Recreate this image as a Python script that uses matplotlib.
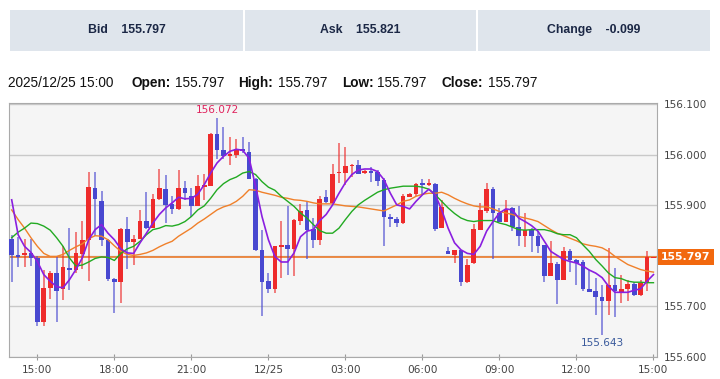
import matplotlib
matplotlib.use("Agg")
import matplotlib.pyplot as plt
from matplotlib.patches import Rectangle
import numpy as np
import pandas as pd

# 15 minute candles, 12/24 14:00 -> 12/25 15:00
times = pd.date_range("2025-12-24 14:00", "2025-12-25 15:00", freq="15min")

opens = [155.834, 155.801, 155.801, 155.805, 155.796, 155.669, 155.736, 155.767, 155.734, 155.777,
         155.772, 155.803, 155.832, 155.934, 155.909, 155.832, 155.755, 155.749, 155.854, 155.827,
         155.834, 155.870, 155.856, 155.913, 155.932, 155.903, 155.893, 155.934, 155.918, 155.899,
         155.937, 155.939, 156.041, 156.009, 155.997, 156.000, 156.012, 156.005, 155.953, 155.811,
         155.751, 155.735, 155.817, 155.822, 155.814, 155.870, 155.891, 155.854, 155.832, 155.916,
         155.905, 155.964, 155.964, 155.977, 155.980, 155.965, 155.967, 155.967, 155.951, 155.877,
         155.873, 155.865, 155.917, 155.922, 155.944, 155.941, 155.943, 155.856, 155.809, 155.801,
         155.811, 155.748, 155.786, 155.852, 155.888, 155.932, 155.884, 155.868, 155.895, 155.857,
         155.840, 155.852, 155.840, 155.822, 155.761, 155.784, 155.753, 155.809, 155.791, 155.788,
         155.734, 155.730, 155.718, 155.711, 155.743, 155.727, 155.734, 155.745, 155.722, 155.747,
         155.797]
highs = [155.842, 155.838, 155.834, 155.834, 155.799, 155.772, 155.771, 155.799, 155.819, 155.855,
         155.847, 155.870, 155.967, 155.967, 155.928, 155.833, 155.756, 155.855, 155.878, 155.842,
         155.891, 155.926, 155.923, 155.972, 155.961, 155.918, 155.970, 155.949, 155.934, 155.961,
         155.962, 156.043, 156.072, 156.056, 156.036, 156.031, 156.036, 156.025, 155.954, 155.852,
         155.766, 155.820, 155.870, 155.899, 155.873, 155.903, 155.909, 155.875, 155.918, 155.931,
         155.982, 156.024, 156.016, 155.982, 155.990, 155.970, 155.976, 155.970, 155.954, 155.882,
         155.878, 155.922, 155.924, 155.944, 155.952, 155.952, 155.944, 155.911, 155.817, 155.811,
         155.812, 155.794, 155.864, 155.905, 155.944, 155.936, 155.895, 155.911, 155.897, 155.899,
         155.884, 155.855, 155.850, 155.822, 155.830, 155.787, 155.818, 155.813, 155.794, 155.791,
         155.772, 155.756, 155.743, 155.816, 155.776, 155.763, 155.753, 155.749, 155.753, 155.810,
         155.797]
lows = [155.748, 155.779, 155.779, 155.781, 155.662, 155.662, 155.714, 155.670, 155.712, 155.732,
        155.766, 155.775, 155.750, 155.839, 155.819, 155.750, 155.688, 155.707, 155.774, 155.782,
        155.833, 155.854, 155.855, 155.911, 155.865, 155.882, 155.891, 155.911, 155.878, 155.898,
        155.911, 155.938, 155.991, 155.991, 155.980, 155.993, 156.004, 155.952, 155.809, 155.681,
        155.727, 155.727, 155.757, 155.763, 155.760, 155.862, 155.793, 155.816, 155.822, 155.904,
        155.904, 155.945, 155.941, 155.957, 155.962, 155.963, 155.947, 155.939, 155.820, 155.857,
        155.857, 155.864, 155.916, 155.918, 155.921, 155.938, 155.849, 155.855, 155.803, 155.786,
        155.740, 155.747, 155.785, 155.851, 155.885, 155.793, 155.867, 155.867, 155.849, 155.820,
        155.817, 155.807, 155.806, 155.748, 155.760, 155.705, 155.752, 155.768, 155.742, 155.730,
        155.729, 155.684, 155.643, 155.684, 155.680, 155.707, 155.711, 155.721, 155.720, 155.730,
        155.797]
closes = [155.801, 155.800, 155.806, 155.796, 155.669, 155.736, 155.766, 155.730, 155.778, 155.772,
          155.805, 155.832, 155.936, 155.912, 155.832, 155.755, 155.749, 155.854, 155.827, 155.834,
          155.870, 155.855, 155.913, 155.934, 155.901, 155.893, 155.934, 155.924, 155.899, 155.938,
          155.941, 156.041, 156.009, 155.998, 156.001, 156.011, 156.008, 155.953, 155.811, 155.748,
          155.735, 155.819, 155.821, 155.814, 155.872, 155.889, 155.852, 155.832, 155.913, 155.906,
          155.963, 155.967, 155.978, 155.980, 155.963, 155.968, 155.966, 155.949, 155.878, 155.873,
          155.865, 155.918, 155.922, 155.943, 155.940, 155.944, 155.853, 155.896, 155.804, 155.811,
          155.748, 155.782, 155.853, 155.890, 155.932, 155.884, 155.868, 155.893, 155.857, 155.840,
          155.852, 155.840, 155.820, 155.761, 155.786, 155.753, 155.809, 155.791, 155.786, 155.734,
          155.729, 155.718, 155.711, 155.743, 155.730, 155.734, 155.745, 155.722, 155.747, 155.797,
          155.797]

# moving averages as drawn on the chart
ma_short = [155.911, 155.842, 155.819, 155.807, 155.789, 155.763, 155.750, 155.739, 155.737, 155.753,
            155.773, 155.796, 155.832, 155.852, 155.862, 155.845, 155.832, 155.814, 155.806, 155.805,
            155.826, 155.845, 155.865, 155.882, 155.895, 155.905, 155.916, 155.913, 155.914, 155.922,
            155.941, 155.964, 155.984, 155.997, 156.007, 156.011, 156.009, 155.993, 155.938, 155.878,
            155.832, 155.799, 155.788, 155.788, 155.806, 155.838, 155.849, 155.852, 155.870, 155.882,
            155.901, 155.924, 155.945, 155.961, 155.970, 155.972, 155.972, 155.967, 155.951, 155.924,
            155.901, 155.898, 155.893, 155.908, 155.921, 155.932, 155.921, 155.891, 155.855, 155.826,
            155.812, 155.805, 155.803, 155.819, 155.849, 155.868, 155.885, 155.893, 155.891, 155.875,
            155.868, 155.860, 155.849, 155.829, 155.809, 155.801, 155.793, 155.789, 155.786, 155.780,
            155.772, 155.766, 155.757, 155.740, 155.728, 155.728, 155.728, 155.732, 155.735, 155.750,
            155.763]
ma_mid = [155.836, 155.847, 155.855, 155.865, 155.864, 155.859, 155.851, 155.836, 155.819, 155.796,
          155.780, 155.782, 155.788, 155.795, 155.798, 155.797, 155.791, 155.805, 155.814, 155.819,
          155.829, 155.842, 155.852, 155.855, 155.860, 155.859, 155.862, 155.868, 155.878, 155.891,
          155.899, 155.914, 155.931, 155.943, 155.951, 155.956, 155.964, 155.967, 155.961, 155.947,
          155.936, 155.930, 155.918, 155.908, 155.898, 155.885, 155.875, 155.862, 155.850, 155.845,
          155.845, 155.855, 155.872, 155.888, 155.901, 155.910, 155.918, 155.926, 155.931, 155.934,
          155.936, 155.938, 155.938, 155.938, 155.936, 155.932, 155.921, 155.908, 155.895, 155.884,
          155.875, 155.870, 155.868, 155.870, 155.870, 155.870, 155.865, 155.862, 155.857, 155.852,
          155.851, 155.852, 155.852, 155.852, 155.849, 155.844, 155.842, 155.842, 155.836, 155.822,
          155.809, 155.793, 155.780, 155.766, 155.757, 155.755, 155.750, 155.748, 155.748, 155.747,
          155.747]
ma_long = [155.891, 155.872, 155.855, 155.836, 155.819, 155.805, 155.799, 155.799, 155.803, 155.811,
           155.818, 155.824, 155.834, 155.840, 155.839, 155.832, 155.820, 155.809, 155.803, 155.801,
           155.803, 155.806, 155.811, 155.818, 155.824, 155.829, 155.839, 155.847, 155.855, 155.865,
           155.873, 155.882, 155.891, 155.897, 155.901, 155.908, 155.918, 155.931, 155.930, 155.926,
           155.923, 155.920, 155.916, 155.914, 155.911, 155.910, 155.908, 155.905, 155.903, 155.903,
           155.903, 155.901, 155.899, 155.898, 155.897, 155.895, 155.893, 155.891, 155.889, 155.895,
           155.901, 155.908, 155.911, 155.918, 155.922, 155.924, 155.924, 155.926, 155.921, 155.914,
           155.908, 155.903, 155.899, 155.897, 155.897, 155.893, 155.888, 155.885, 155.882, 155.878,
           155.875, 155.872, 155.868, 155.860, 155.852, 155.845, 155.840, 155.835, 155.830, 155.824,
           155.821, 155.819, 155.816, 155.809, 155.799, 155.791, 155.783, 155.778, 155.773, 155.770,
           155.768]

bid, ask, change = "155.797", "155.821", "-0.099"
last_price = 155.797
y_ticks = [155.6, 155.7, 155.8, 155.9, 156.0, 156.1]

UP = "#ee2b2b"
DOWN = "#4848d0"

fig = plt.figure(figsize=(7.2, 3.79), dpi=100)
W, H = 720, 379

def fx(px):
    return px / W

def fy(py):
    return 1 - py / H

# quote boxes on top
boxes = [(10, 243, "Bid", bid), (245, 476, "Ask", ask), (478, 710, "Change", change)]
for x0, x1, name, val in boxes:
    fig.add_artist(Rectangle((fx(x0), fy(51)), fx(x1 - x0), 41 / H,
                             transform=fig.transFigure, facecolor="#dfe5ec", edgecolor="none"))
    fig.text(fx((x0 + x1) / 2), fy(30), name + "    " + val, ha="center", va="center",
             fontsize=8.8, fontweight="bold", color="#1b2745", family="Liberation Sans")

# OHLC line
info = [(8, "2025/12/25 15:00", "normal"),
        (131, "Open:", "bold"), (175, bid, "normal"),
        (238, "High:", "bold"), (278, bid, "normal"),
        (342, "Low:", "bold"), (377, bid, "normal"),
        (442, "Close:", "bold"), (488, bid, "normal")]
for px, s, wt in info:
    fig.text(fx(px), fy(83), s, ha="left", va="center", fontsize=9.8,
             fontweight=wt, color="#111111", family="Liberation Sans")

ax = fig.add_axes([fx(9), fy(357), fx(648), 254 / H])
ax.set_facecolor("#f5f5f5")

x = np.arange(len(times))
o = np.array(opens)
h = np.array(highs)
l = np.array(lows)
c = np.array(closes)
up = c >= o
cols = np.where(up, UP, DOWN)

ax.vlines(x, l, h, colors=cols, linewidth=1.3, alpha=0.65, zorder=3)
body_lo = np.minimum(o, c)
body_h = np.maximum(np.abs(c - o), 0.0025)
ax.bar(x, body_h, bottom=body_lo - np.where(np.abs(c - o) < 0.0025, 0.00125, 0), width=0.72,
       color=cols, linewidth=0, zorder=4)

ax.plot(x, ma_long, color="#f0802a", lw=1.0, zorder=5)
ax.plot(x, ma_mid, color="#22aa22", lw=1.0, zorder=5)
ax.plot(x, ma_short, color="#8a1fe0", lw=1.2, zorder=6)

ax.axhline(last_price, color="#ec7a2a", lw=1.2, zorder=2)

ax.set_xlim(-0.42, len(times) - 0.45)
ax.set_ylim(155.6013, 156.1026)
ax.set_yticks(y_ticks)
# the 155.800 label sits under the current price tag
ax.set_yticklabels(["" if abs(v - last_price) < 0.02 else "%.3f" % v for v in y_ticks])
ax.yaxis.tick_right()
ax.grid(axis="y", color="#c9c9c9", lw=1)
ax.set_axisbelow(True)

tick_idx = [i for i, t in enumerate(times) if t.minute == 0 and t.hour % 3 == 0]
tick_lab = [("%d/%d" % (times[i].month, times[i].day)) if times[i].hour == 0
            else times[i].strftime("%H:%M") for i in tick_idx]
ax.set_xticks(tick_idx)
ax.set_xticklabels(tick_lab)
ax.tick_params(axis="x", direction="inout", length=5, color="#999999", labelsize=7.6,
               labelcolor="#444444", pad=3)
ax.tick_params(axis="y", length=0, labelsize=7.6, labelcolor="#444444", pad=5)
for s in ax.spines.values():
    s.set_color("#aaaaaa")

# high / low markers
i_hi = int(np.argmax(h))
i_lo = int(np.argmin(l))
ax.text(i_hi, h[i_hi] + 0.006, "%.3f" % h[i_hi], ha="center", va="bottom", fontsize=7.6,
        color="#e0245e")
ax.text(i_lo, l[i_lo] - 0.006, "%.3f" % l[i_lo], ha="center", va="top", fontsize=7.6,
        color="#3a5a9c")

# current price tag
ax.annotate("%.3f" % last_price, xy=(1.0, last_price), xycoords=("axes fraction", "data"),
            xytext=(3, 0), textcoords="offset points", ha="left", va="center",
            fontsize=7.8, fontweight="bold", color="white",
            bbox=dict(boxstyle="square,pad=0.28", fc="#f2680e", ec="none"))

fig.savefig("out.png", dpi=100)
